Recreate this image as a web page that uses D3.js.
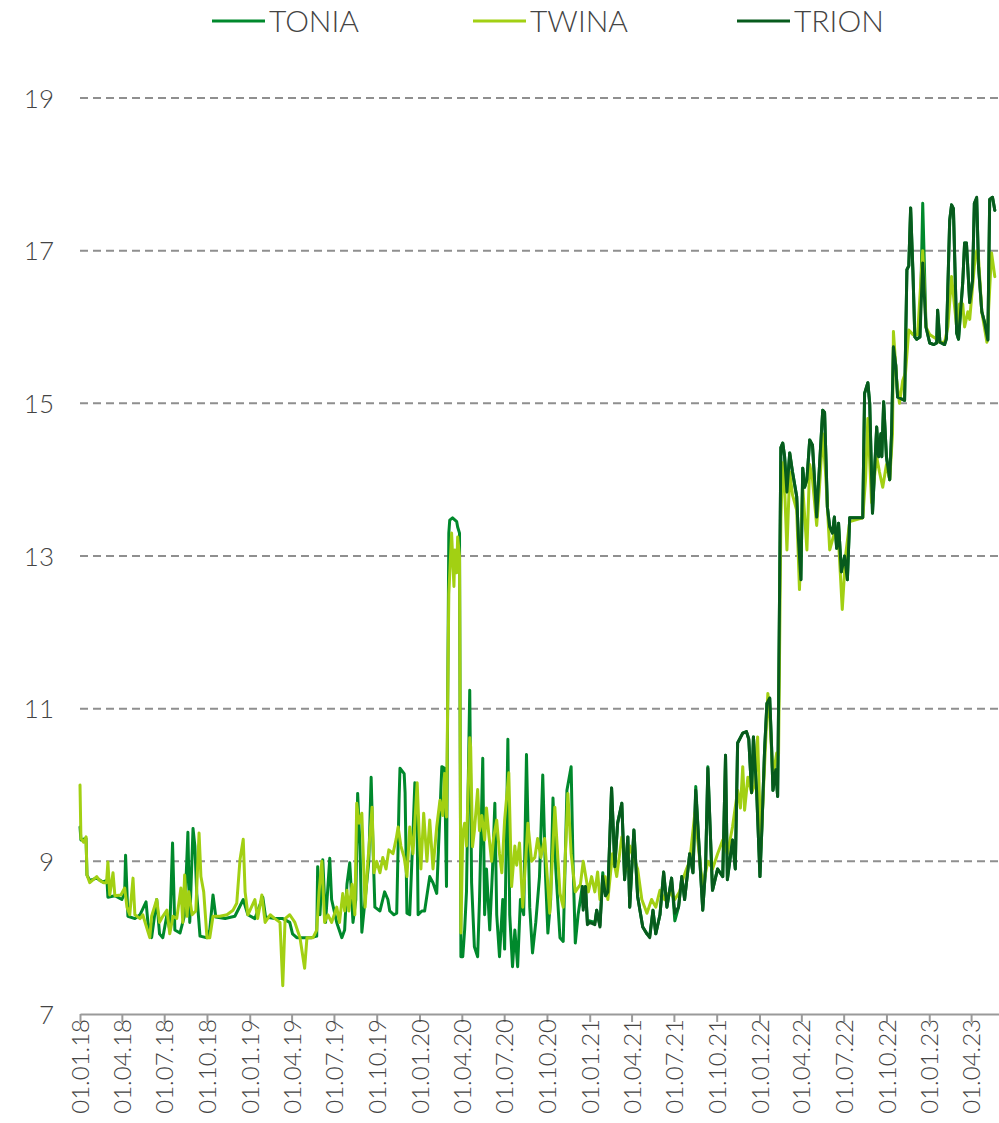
<!DOCTYPE html>
<html>
<head>
<meta charset="utf-8">
<script src="https://cdn.jsdelivr.net/npm/d3@7"></script>
<style>
  html, body { margin: 0; padding: 0; background: #fff; }
  svg { display: block; }
  text { font-family: Lato, "Open Sans", sans-serif; font-weight: 300; fill: #444; }
</style>
</head>
<body>
<svg id="chart" width="999" height="1123"></svg>
<script>
// Series names and colours
const seriesNames = ["TONIA", "TWINA", "TRION"];
const seriesColors = ["#00892c", "#a2d013", "#075b1d"];

// Axis ticks
const yTicks = [7, 9, 11, 13, 15, 17, 19];
const xTickFormat = "%d.%m.%y";

// Overnight rates, %
const tonia = [
  ["2018-01-01", 9.45], ["2018-01-03", 9.28], ["2018-01-14", 9.3], ["2018-01-16", 8.82], ["2018-01-22", 8.75],
  ["2018-02-06", 8.78], ["2018-02-19", 8.73], ["2018-02-28", 8.75], ["2018-03-02", 8.53], ["2018-03-17", 8.55],
  ["2018-04-01", 8.5], ["2018-04-07", 8.58], ["2018-04-09", 9.08], ["2018-04-14", 8.28], ["2018-04-29", 8.25],
  ["2018-05-10", 8.3], ["2018-05-23", 8.47], ["2018-05-27", 8.2], ["2018-06-04", 8.0], ["2018-06-15", 8.5],
  ["2018-06-21", 8.05], ["2018-06-28", 8.0], ["2018-07-07", 8.3], ["2018-07-13", 8.1], ["2018-07-19", 9.24],
  ["2018-07-24", 8.1], ["2018-08-04", 8.06], ["2018-08-14", 8.3], ["2018-08-21", 9.38], ["2018-08-25", 8.2],
  ["2018-09-01", 9.43], ["2018-09-05", 9.2], ["2018-09-09", 8.58], ["2018-09-16", 8.02], ["2018-10-01", 8.0],
  ["2018-10-07", 8.1], ["2018-10-14", 8.56], ["2018-10-20", 8.27], ["2018-11-09", 8.25], ["2018-11-30", 8.28],
  ["2018-12-18", 8.5], ["2018-12-28", 8.3], ["2019-01-12", 8.25], ["2019-01-29", 8.53], ["2019-02-04", 8.27],
  ["2019-02-24", 8.25], ["2019-03-13", 8.25], ["2019-03-28", 8.2], ["2019-04-03", 8.05], ["2019-04-12", 8.0],
  ["2019-04-29", 8.0], ["2019-05-14", 8.0], ["2019-05-25", 8.02], ["2019-05-27", 8.93], ["2019-06-01", 8.3],
  ["2019-06-07", 9.02], ["2019-06-13", 8.2], ["2019-06-22", 9.04], ["2019-06-26", 8.5], ["2019-07-07", 8.2],
  ["2019-07-18", 8.0], ["2019-07-24", 8.1], ["2019-07-29", 8.7], ["2019-08-04", 8.98], ["2019-08-11", 8.2],
  ["2019-08-17", 8.5], ["2019-08-21", 9.89], ["2019-08-26", 9.2], ["2019-08-30", 8.07], ["2019-09-06", 8.5],
  ["2019-09-14", 9.0], ["2019-09-19", 10.1], ["2019-09-23", 9.2], ["2019-09-27", 8.4], ["2019-10-08", 8.35],
  ["2019-10-18", 8.6], ["2019-10-25", 8.5], ["2019-10-29", 8.35], ["2019-11-07", 8.3], ["2019-11-13", 8.32],
  ["2019-11-18", 9.8], ["2019-11-20", 10.22], ["2019-11-29", 10.15], ["2019-12-01", 9.9], ["2019-12-05", 8.32],
  ["2019-12-11", 8.3], ["2019-12-18", 9.37], ["2019-12-22", 10.03], ["2019-12-27", 9.4], ["2019-12-29", 8.3],
  ["2020-01-06", 8.35], ["2020-01-12", 8.35], ["2020-01-23", 8.8], ["2020-01-30", 8.72], ["2020-02-07", 8.58],
  ["2020-02-11", 9.2], ["2020-02-18", 10.24], ["2020-02-24", 10.22], ["2020-02-28", 8.67], ["2020-03-04", 13.3],
  ["2020-03-06", 13.47], ["2020-03-12", 13.5], ["2020-03-21", 13.45], ["2020-03-23", 13.38], ["2020-03-27", 13.3],
  ["2020-03-30", 7.75], ["2020-04-03", 7.75], ["2020-04-07", 8.1], ["2020-04-11", 8.6], ["2020-04-18", 11.24],
  ["2020-04-22", 8.72], ["2020-04-28", 7.88], ["2020-05-05", 7.75], ["2020-05-09", 8.5], ["2020-05-16", 10.35],
  ["2020-05-20", 8.3], ["2020-05-24", 8.9], ["2020-05-31", 8.1], ["2020-06-06", 8.9], ["2020-06-11", 9.76],
  ["2020-06-15", 8.3], ["2020-06-21", 7.75], ["2020-06-28", 8.5], ["2020-07-02", 7.85], ["2020-07-09", 10.6],
  ["2020-07-13", 8.3], ["2020-07-19", 7.62], ["2020-07-24", 8.1], ["2020-07-30", 7.62], ["2020-08-05", 8.5],
  ["2020-08-12", 8.3], ["2020-08-18", 10.4], ["2020-08-25", 8.4], ["2020-08-31", 7.8], ["2020-09-07", 8.2],
  ["2020-09-15", 8.8], ["2020-09-22", 10.13], ["2020-09-28", 8.8], ["2020-10-03", 8.06], ["2020-10-09", 8.5],
  ["2020-10-14", 9.83], ["2020-10-20", 8.9], ["2020-10-29", 8.0], ["2020-11-05", 7.95], ["2020-11-13", 9.93],
  ["2020-11-22", 10.24], ["2020-11-26", 9.0], ["2020-12-01", 7.93], ["2020-12-07", 8.3], ["2020-12-16", 8.67],
  ["2020-12-18", 8.4], ["2020-12-23", 8.67], ["2020-12-27", 8.2], ["2021-01-01", 8.22], ["2021-01-12", 8.2],
  ["2021-01-16", 8.36], ["2021-01-23", 8.16], ["2021-01-29", 8.85], ["2021-02-04", 8.55], ["2021-02-09", 8.6],
  ["2021-02-17", 9.96], ["2021-02-24", 8.93], ["2021-03-02", 9.5], ["2021-03-11", 9.76], ["2021-03-17", 8.76],
  ["2021-03-24", 9.32], ["2021-03-28", 8.4], ["2021-04-06", 9.41], ["2021-04-14", 8.54], ["2021-04-25", 8.14],
  ["2021-05-04", 8.05], ["2021-05-10", 8.02], ["2021-05-17", 8.36], ["2021-05-23", 8.05], ["2021-06-01", 8.3],
  ["2021-06-09", 8.86], ["2021-06-16", 8.4], ["2021-06-26", 8.78], ["2021-07-03", 8.22], ["2021-07-11", 8.4],
  ["2021-07-18", 8.8], ["2021-07-24", 8.5], ["2021-08-04", 9.1], ["2021-08-11", 8.85], ["2021-08-17", 9.98],
  ["2021-08-24", 9.2], ["2021-09-01", 8.36], ["2021-09-07", 8.9], ["2021-09-12", 10.24], ["2021-09-22", 8.62],
  ["2021-10-03", 8.9], ["2021-10-14", 8.8], ["2021-10-20", 10.39], ["2021-10-24", 8.76], ["2021-11-04", 9.28],
  ["2021-11-10", 8.9], ["2021-11-15", 10.55], ["2021-11-26", 10.68], ["2021-12-04", 10.7], ["2021-12-09", 10.6],
  ["2021-12-15", 9.9], ["2021-12-19", 10.63], ["2021-12-26", 9.9], ["2022-01-02", 8.8], ["2022-01-06", 9.41],
  ["2022-01-12", 10.46], ["2022-01-17", 11.07], ["2022-01-23", 11.14], ["2022-01-27", 10.5], ["2022-01-30", 9.93],
  ["2022-02-05", 10.2], ["2022-02-09", 9.85], ["2022-02-11", 11.02], ["2022-02-16", 14.42], ["2022-02-20", 14.48],
  ["2022-02-24", 14.3], ["2022-03-01", 13.84], ["2022-03-07", 14.35], ["2022-03-13", 14.1], ["2022-03-22", 13.78],
  ["2022-03-26", 13.2], ["2022-03-31", 12.69], ["2022-04-04", 14.15], ["2022-04-08", 13.9], ["2022-04-13", 14.0],
  ["2022-04-19", 14.52], ["2022-04-25", 14.45], ["2022-05-04", 13.51], ["2022-05-10", 14.17], ["2022-05-17", 14.91],
  ["2022-05-21", 14.88], ["2022-05-27", 13.64], ["2022-06-01", 13.38], ["2022-06-07", 13.3], ["2022-06-11", 13.51],
  ["2022-06-16", 13.1], ["2022-06-20", 13.43], ["2022-06-26", 12.79], ["2022-07-03", 13.0], ["2022-07-09", 12.69],
  ["2022-07-14", 13.5], ["2022-08-11", 13.5], ["2022-08-15", 15.13], ["2022-08-22", 15.27], ["2022-08-26", 15.0],
  ["2022-09-01", 13.56], ["2022-09-10", 14.69], ["2022-09-14", 14.3], ["2022-09-19", 14.6], ["2022-09-21", 14.3],
  ["2022-09-25", 15.02], ["2022-10-01", 14.3], ["2022-10-08", 14.0], ["2022-10-12", 14.61], ["2022-10-16", 15.74],
  ["2022-10-21", 15.5], ["2022-10-25", 15.08], ["2022-11-09", 15.04], ["2022-11-14", 16.75], ["2022-11-18", 16.8],
  ["2022-11-22", 17.56], ["2022-11-27", 16.71], ["2022-12-01", 15.87], ["2022-12-05", 15.84], ["2022-12-12", 15.87],
  ["2022-12-18", 17.62], ["2022-12-25", 16.0], ["2023-01-02", 15.79], ["2023-01-11", 15.77], ["2023-01-17", 15.79],
  ["2023-01-19", 16.22], ["2023-01-24", 15.8], ["2023-02-03", 15.77], ["2023-02-07", 15.85], ["2023-02-14", 17.4],
  ["2023-02-18", 17.6], ["2023-02-22", 17.55], ["2023-03-01", 15.92], ["2023-03-05", 15.84], ["2023-03-14", 16.58],
  ["2023-03-18", 17.1], ["2023-03-22", 17.1], ["2023-03-29", 16.32], ["2023-04-04", 16.6], ["2023-04-08", 17.62],
  ["2023-04-13", 17.68], ["2023-04-17", 16.79], ["2023-04-24", 16.2], ["2023-04-30", 16.06], ["2023-05-07", 15.83],
  ["2023-05-11", 17.67], ["2023-05-17", 17.7], ["2023-05-22", 17.53]
];

const twina = [
  ["2018-01-01", 10.0], ["2018-01-03", 9.3], ["2018-01-09", 9.25], ["2018-01-14", 9.32], ["2018-01-16", 8.82],
  ["2018-01-22", 8.72], ["2018-02-06", 8.8], ["2018-02-12", 8.75], ["2018-02-21", 8.72], ["2018-02-27", 8.72],
  ["2018-03-02", 8.99], ["2018-03-06", 8.56], ["2018-03-13", 8.85], ["2018-03-17", 8.55], ["2018-03-30", 8.56],
  ["2018-04-07", 8.65], ["2018-04-12", 8.4], ["2018-04-18", 8.3], ["2018-04-25", 8.78], ["2018-04-29", 8.3],
  ["2018-05-10", 8.25], ["2018-05-16", 8.3], ["2018-05-31", 8.0], ["2018-06-04", 8.28], ["2018-06-15", 8.5],
  ["2018-06-21", 8.2], ["2018-06-28", 8.28], ["2018-07-07", 8.36], ["2018-07-13", 8.05], ["2018-07-20", 8.28],
  ["2018-07-28", 8.25], ["2018-08-06", 8.65], ["2018-08-10", 8.2], ["2018-08-14", 8.82], ["2018-08-19", 8.28],
  ["2018-08-23", 8.6], ["2018-08-30", 8.3], ["2018-09-07", 8.35], ["2018-09-14", 9.37], ["2018-09-18", 8.8],
  ["2018-09-24", 8.6], ["2018-10-01", 8.0], ["2018-10-07", 8.0], ["2018-10-14", 8.28], ["2018-10-29", 8.28],
  ["2018-11-13", 8.3], ["2018-11-26", 8.36], ["2018-12-04", 8.45], ["2018-12-11", 9.02], ["2018-12-18", 9.29],
  ["2018-12-22", 8.6], ["2018-12-28", 8.3], ["2019-01-12", 8.5], ["2019-01-18", 8.25], ["2019-01-27", 8.56],
  ["2019-02-03", 8.2], ["2019-02-14", 8.3], ["2019-02-24", 8.25], ["2019-03-07", 8.2], ["2019-03-13", 7.37],
  ["2019-03-18", 8.25], ["2019-03-28", 8.3], ["2019-04-08", 8.2], ["2019-04-19", 8.0], ["2019-04-29", 7.6],
  ["2019-05-04", 8.0], ["2019-05-17", 8.0], ["2019-05-25", 8.1], ["2019-05-30", 8.6], ["2019-06-05", 9.0],
  ["2019-06-11", 8.2], ["2019-06-18", 8.3], ["2019-06-26", 8.2], ["2019-07-07", 8.4], ["2019-07-13", 8.2],
  ["2019-07-20", 8.58], ["2019-07-24", 8.35], ["2019-07-29", 8.62], ["2019-08-02", 8.35], ["2019-08-09", 8.7],
  ["2019-08-15", 8.3], ["2019-08-19", 9.76], ["2019-08-24", 9.5], ["2019-08-30", 9.63], ["2019-09-06", 8.4],
  ["2019-09-12", 9.0], ["2019-09-21", 9.71], ["2019-09-25", 8.85], ["2019-10-01", 9.0], ["2019-10-08", 8.85],
  ["2019-10-14", 9.05], ["2019-10-21", 8.9], ["2019-10-27", 9.15], ["2019-11-05", 9.1], ["2019-11-12", 9.3],
  ["2019-11-16", 9.45], ["2019-11-22", 9.2], ["2019-11-29", 9.05], ["2019-12-05", 8.8], ["2019-12-11", 9.45],
  ["2019-12-18", 9.1], ["2019-12-27", 10.03], ["2019-12-31", 9.4], ["2020-01-04", 8.9], ["2020-01-10", 9.63],
  ["2020-01-17", 9.0], ["2020-01-23", 9.54], ["2020-01-30", 8.9], ["2020-02-07", 9.45], ["2020-02-14", 9.8],
  ["2020-02-20", 9.6], ["2020-02-24", 10.15], ["2020-02-28", 9.58], ["2020-03-04", 12.5], ["2020-03-10", 13.3],
  ["2020-03-15", 12.6], ["2020-03-17", 13.08], ["2020-03-21", 12.78], ["2020-03-23", 13.25], ["2020-03-27", 13.0],
  ["2020-03-30", 8.06], ["2020-04-03", 9.37], ["2020-04-07", 9.5], ["2020-04-11", 9.2], ["2020-04-18", 10.62],
  ["2020-04-20", 10.5], ["2020-04-24", 9.19], ["2020-04-28", 9.4], ["2020-05-05", 9.94], ["2020-05-09", 9.4],
  ["2020-05-14", 9.6], ["2020-05-20", 9.28], ["2020-05-24", 9.7], ["2020-05-29", 9.35], ["2020-06-04", 9.0],
  ["2020-06-08", 9.3], ["2020-06-15", 9.54], ["2020-06-21", 9.1], ["2020-06-26", 8.85], ["2020-07-02", 9.54],
  ["2020-07-11", 10.16], ["2020-07-17", 8.67], ["2020-07-24", 9.2], ["2020-07-28", 8.95], ["2020-08-03", 9.24],
  ["2020-08-10", 8.4], ["2020-08-21", 9.5], ["2020-08-29", 9.0], ["2020-09-05", 9.05], ["2020-09-11", 9.3],
  ["2020-09-18", 9.05], ["2020-09-26", 9.3], ["2020-10-07", 8.32], ["2020-10-18", 9.71], ["2020-10-29", 8.58],
  ["2020-11-05", 8.4], ["2020-11-15", 9.89], ["2020-11-22", 9.1], ["2020-12-01", 8.6], ["2020-12-12", 8.7],
  ["2020-12-18", 9.0], ["2020-12-29", 8.6], ["2021-01-05", 8.8], ["2021-01-12", 8.6],
  ["2021-01-18", 8.86], ["2021-01-23", 8.5], ["2021-02-03", 8.8], ["2021-02-09", 8.5], ["2021-02-19", 9.1],
  ["2021-02-28", 8.8], ["2021-03-11", 9.32], ["2021-03-22", 8.9], ["2021-03-28", 9.2], ["2021-04-08", 9.0],
  ["2021-04-14", 8.9], ["2021-04-23", 8.5], ["2021-05-04", 8.32], ["2021-05-14", 8.5], ["2021-05-23", 8.4],
  ["2021-06-01", 8.62], ["2021-06-11", 8.5], ["2021-06-22", 8.6], ["2021-07-03", 8.5], ["2021-07-13", 8.6],
  ["2021-07-20", 8.76], ["2021-07-28", 8.9], ["2021-08-04", 9.0], ["2021-08-15", 9.63], ["2021-08-26", 9.0],
  ["2021-09-01", 8.67], ["2021-09-12", 9.0], ["2021-09-22", 8.9], ["2021-10-03", 9.1], ["2021-10-14", 9.28],
  ["2021-10-24", 9.1], ["2021-11-04", 9.45], ["2021-11-15", 9.93], ["2021-11-21", 9.7], ["2021-11-26", 10.24],
  ["2021-11-30", 9.67], ["2021-12-07", 10.1], ["2021-12-15", 9.9], ["2021-12-22", 10.0], ["2021-12-28", 10.63],
  ["2022-01-04", 9.2], ["2022-01-10", 10.0], ["2022-01-19", 11.2], ["2022-01-23", 10.9], ["2022-01-30", 10.1],
  ["2022-02-07", 10.42], ["2022-02-11", 10.4], ["2022-02-16", 13.5], ["2022-02-20", 14.22], ["2022-02-24", 13.9],
  ["2022-03-01", 13.08], ["2022-03-07", 14.1], ["2022-03-13", 13.8], ["2022-03-22", 13.6], ["2022-03-28", 12.56],
  ["2022-04-04", 13.9], ["2022-04-13", 13.08], ["2022-04-19", 14.2], ["2022-04-25", 14.0], ["2022-05-04", 13.4],
  ["2022-05-10", 13.9], ["2022-05-17", 14.6], ["2022-05-23", 14.1], ["2022-06-01", 13.08], ["2022-06-11", 13.3],
  ["2022-06-20", 13.2], ["2022-06-28", 12.3], ["2022-07-05", 13.0], ["2022-07-14", 13.45], ["2022-08-11", 13.5],
  ["2022-08-17", 14.0], ["2022-08-22", 14.8], ["2022-08-30", 13.7], ["2022-09-10", 14.3], ["2022-09-16", 14.1],
  ["2022-09-23", 13.9], ["2022-10-01", 14.2], ["2022-10-08", 14.0], ["2022-10-14", 14.6], ["2022-10-16", 15.94],
  ["2022-10-23", 15.3], ["2022-10-29", 15.0], ["2022-11-05", 15.3], ["2022-11-11", 15.4], ["2022-11-18", 15.96],
  ["2022-11-27", 15.9], ["2022-12-07", 15.9], ["2022-12-18", 17.0], ["2022-12-25", 16.0], ["2023-01-02", 15.9],
  ["2023-01-15", 15.85], ["2023-01-24", 15.8], ["2023-02-03", 15.8], ["2023-02-10", 16.0], ["2023-02-18", 16.66],
  ["2023-03-01", 16.0], ["2023-03-07", 16.3], ["2023-03-14", 16.3], ["2023-03-18", 16.0], ["2023-03-25", 16.2],
  ["2023-03-29", 16.1], ["2023-04-08", 16.8], ["2023-04-13", 17.0], ["2023-04-17", 16.9], ["2023-04-24", 16.2],
  ["2023-05-05", 15.8], ["2023-05-15", 16.97], ["2023-05-22", 16.66]
];

const trion = [
  ["2020-12-16", 8.67], ["2020-12-18", 8.36], ["2020-12-23", 8.67], ["2020-12-27", 8.17], ["2021-01-01", 8.2],
  ["2021-01-12", 8.17], ["2021-01-16", 8.36], ["2021-01-23", 8.14], ["2021-01-29", 8.8], ["2021-02-04", 8.55],
  ["2021-02-09", 8.6], ["2021-02-17", 9.96], ["2021-02-24", 8.93], ["2021-03-02", 9.5], ["2021-03-11", 9.76],
  ["2021-03-17", 8.76], ["2021-03-24", 9.32], ["2021-03-28", 8.4], ["2021-04-06", 9.41], ["2021-04-14", 8.54],
  ["2021-04-25", 8.14], ["2021-05-04", 8.05], ["2021-05-10", 8.0], ["2021-05-17", 8.36], ["2021-05-23", 8.05],
  ["2021-06-01", 8.3], ["2021-06-09", 8.86], ["2021-06-16", 8.4], ["2021-06-26", 8.78], ["2021-07-03", 8.32],
  ["2021-07-11", 8.4], ["2021-07-18", 8.8], ["2021-07-24", 8.5], ["2021-08-04", 9.1], ["2021-08-11", 8.85],
  ["2021-08-17", 9.93], ["2021-08-24", 9.2], ["2021-09-01", 8.36], ["2021-09-07", 8.9], ["2021-09-12", 10.22],
  ["2021-09-22", 8.62], ["2021-10-03", 8.9], ["2021-10-14", 8.8], ["2021-10-20", 10.39], ["2021-10-24", 8.76],
  ["2021-11-04", 9.28], ["2021-11-10", 8.9], ["2021-11-15", 10.55], ["2021-11-26", 10.68], ["2021-12-04", 10.7],
  ["2021-12-09", 10.6], ["2021-12-15", 9.9], ["2021-12-19", 10.63], ["2021-12-26", 9.9], ["2022-01-02", 8.8],
  ["2022-01-06", 9.41], ["2022-01-12", 10.46], ["2022-01-17", 11.07], ["2022-01-23", 11.14], ["2022-01-27", 10.5],
  ["2022-01-30", 9.93], ["2022-02-05", 10.2], ["2022-02-09", 9.85], ["2022-02-11", 11.02], ["2022-02-16", 14.42],
  ["2022-02-20", 14.48], ["2022-02-24", 14.3], ["2022-03-01", 13.84], ["2022-03-07", 14.35], ["2022-03-13", 14.1],
  ["2022-03-22", 13.78], ["2022-03-26", 13.2], ["2022-03-31", 12.69], ["2022-04-04", 14.15], ["2022-04-08", 13.9],
  ["2022-04-13", 14.0], ["2022-04-19", 14.52], ["2022-04-25", 14.45], ["2022-05-04", 13.51], ["2022-05-10", 14.17],
  ["2022-05-17", 14.91], ["2022-05-21", 14.88], ["2022-05-27", 13.64], ["2022-06-01", 13.38], ["2022-06-07", 13.3],
  ["2022-06-11", 13.51], ["2022-06-16", 13.1], ["2022-06-20", 13.43], ["2022-06-26", 12.79], ["2022-07-03", 13.0],
  ["2022-07-09", 12.69], ["2022-07-14", 13.5], ["2022-08-11", 13.5], ["2022-08-15", 15.13], ["2022-08-22", 15.27],
  ["2022-08-26", 15.0], ["2022-09-01", 13.56], ["2022-09-10", 14.69], ["2022-09-14", 14.3], ["2022-09-19", 14.6],
  ["2022-09-21", 14.3], ["2022-09-25", 15.02], ["2022-10-01", 14.3], ["2022-10-08", 14.0], ["2022-10-12", 14.61],
  ["2022-10-16", 15.74], ["2022-10-21", 15.5], ["2022-10-25", 15.08], ["2022-11-09", 15.04], ["2022-11-14", 16.75],
  ["2022-11-18", 16.8], ["2022-11-22", 17.56], ["2022-11-27", 16.71], ["2022-12-01", 15.87], ["2022-12-05", 15.84],
  ["2022-12-12", 15.87], ["2022-12-18", 16.84], ["2022-12-25", 16.0], ["2023-01-02", 15.79], ["2023-01-11", 15.77],
  ["2023-01-17", 15.79], ["2023-01-19", 16.22], ["2023-01-24", 15.8], ["2023-02-03", 15.77], ["2023-02-07", 15.85],
  ["2023-02-14", 17.4], ["2023-02-18", 17.6], ["2023-02-22", 17.55], ["2023-03-01", 15.92], ["2023-03-05", 15.84],
  ["2023-03-14", 16.58], ["2023-03-18", 17.1], ["2023-03-22", 17.1], ["2023-03-29", 16.32], ["2023-04-04", 16.6],
  ["2023-04-08", 17.62], ["2023-04-13", 17.7], ["2023-04-17", 16.79], ["2023-04-24", 16.2], ["2023-04-30", 16.06],
  ["2023-05-07", 15.83], ["2023-05-11", 17.67], ["2023-05-17", 17.7], ["2023-05-22", 17.53]
];

const dateDomain = ["2018-01-01", "2023-05-31"];

const parse = d3.timeParse("%Y-%m-%d");
const svg = d3.select("#chart");
const plot = { left: 80, right: 999, top: 98, bottom: 1014 };

const x = d3.scaleTime()
  .domain(dateDomain.map(parse))
  .range([plot.left, plot.right]);

const y = d3.scaleLinear()
  .domain([d3.min(yTicks), d3.max(yTicks)])
  .range([plot.bottom, plot.top]);

// Dashed horizontal gridlines (no line at the baseline)
svg.append("g")
  .selectAll("line")
  .data(yTicks.filter(t => t !== d3.min(yTicks)))
  .join("line")
  .attr("x1", plot.left)
  .attr("x2", plot.right)
  .attr("y1", d => y(d))
  .attr("y2", d => y(d))
  .attr("stroke", "#8f8f8f")
  .attr("stroke-width", 2)
  .attr("stroke-dasharray", "8,5");

// Y axis labels
const yAxis = d3.axisLeft(y).tickValues(yTicks).tickSize(0).tickPadding(0);
const gy = svg.append("g")
  .attr("transform", `translate(${plot.left - 26},0)`)
  .call(yAxis);
gy.select(".domain").remove();
gy.selectAll("text")
  .attr("font-size", 26)
  .attr("fill", "#444")
  .attr("dy", "0.35em")
  .style("font-family", "Lato, 'Open Sans', sans-serif")
  .style("font-weight", 300);

// X axis: quarterly ticks with rotated date labels
const xTicks = d3.timeMonth.every(3).range(parse("2018-01-01"), parse("2023-05-01"));
const xAxis = d3.axisBottom(x)
  .tickValues(xTicks)
  .tickFormat(d3.timeFormat(xTickFormat))
  .tickSize(8)
  .tickSizeOuter(0);
const gx = svg.append("g")
  .attr("transform", `translate(0,${plot.bottom})`)
  .call(xAxis);
gx.select(".domain").attr("stroke", "#9a9a9a").attr("stroke-width", 2);
gx.selectAll(".tick line").attr("stroke", "#9a9a9a").attr("stroke-width", 2);
gx.selectAll("text")
  .attr("font-size", 24)
  .attr("fill", "#444")
  .attr("text-anchor", "end")
  .attr("transform", "rotate(-90)")
  .attr("x", -5)
  .attr("y", 0)
  .attr("dy", "0.36em")
  .style("font-family", "Lato, 'Open Sans', sans-serif")
  .style("font-weight", 300);

// Lines
const line = d3.line()
  .x(d => x(parse(d[0])))
  .y(d => y(d[1]))
  .curve(d3.curveLinear);

const seriesData = [tonia, twina, trion];
svg.append("g")
  .selectAll("path")
  .data(seriesData)
  .join("path")
  .attr("d", line)
  .attr("fill", "none")
  .attr("stroke", (d, i) => seriesColors[i])
  .attr("stroke-width", 3)
  .attr("stroke-linejoin", "round")
  .attr("stroke-linecap", "round");

// Legend
const legendX = [212, 473, 737];
const legend = svg.append("g")
  .selectAll("g")
  .data(seriesNames)
  .join("g")
  .attr("transform", (d, i) => `translate(${legendX[i]},21)`);
legend.append("line")
  .attr("x1", 0).attr("x2", 53)
  .attr("stroke", (d, i) => seriesColors[i])
  .attr("stroke-width", 3);
legend.append("text")
  .attr("x", 57)
  .attr("y", 11)
  .attr("font-size", 30)
  .attr("fill", "#444")
  .text(d => d);
</script>
</body>
</html>
